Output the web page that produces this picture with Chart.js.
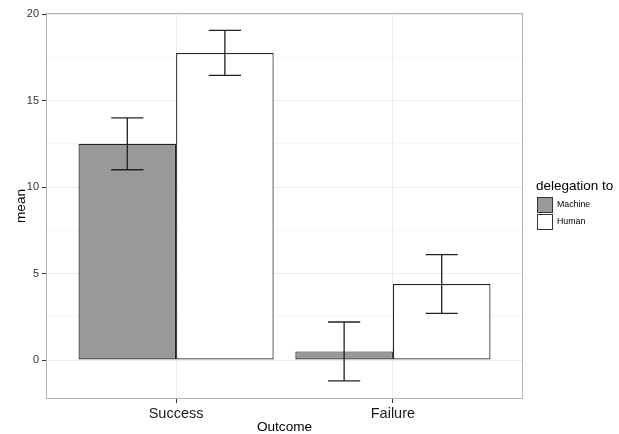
<!DOCTYPE html>
<html>
<head>
<meta charset="utf-8">
<script src="https://cdn.jsdelivr.net/npm/chart.js@4"></script>
<style>
  html, body { margin: 0; padding: 0; background: #fff; }
  #wrap { width: 619px; height: 434px; position: relative; }
</style>
</head>
<body>
<div id="wrap"><canvas id="c" width="619" height="434"></canvas></div>
<script>
// ---- data ----
const categories = ['Success', 'Failure'];
const seriesNames = ['Machine', 'Human'];
const machineMean = [12.5, 0.5];
const machineLow  = [11.0, -1.2];
const machineHigh = [14.0, 2.2];
const humanMean   = [17.75, 4.4];
const humanLow    = [16.45, 2.7];
const humanHigh   = [19.05, 6.1];
const yTicks = [0, 5, 10, 15, 20];
const yMinorTicks = [2.5, 7.5, 12.5, 17.5];
const legendTitle = 'delegation to';

const FONT = '"Liberation Sans", Arial, Helvetica, sans-serif';

function toPoints(vals) { return vals.map((v, i) => ({ x: i + 1, y: v })); }

const errorBars = [
  { low: machineLow, high: machineHigh },
  { low: humanLow, high: humanHigh }
];

const errorBarPlugin = {
  id: 'errorBars',
  afterDatasetsDraw(chart) {
    const ctx = chart.ctx;
    const y = chart.scales.y;
    ctx.save();
    ctx.strokeStyle = '#222';
    ctx.lineWidth = 1.3;
    chart.data.datasets.forEach((ds, di) => {
      const meta = chart.getDatasetMeta(di);
      meta.data.forEach((el, i) => {
        const x = el.x;
        const hw = el.width * 0.165;
        const yl = y.getPixelForValue(errorBars[di].low[i]);
        const yh = y.getPixelForValue(errorBars[di].high[i]);
        ctx.beginPath();
        ctx.moveTo(x, yl); ctx.lineTo(x, yh);
        ctx.moveTo(x - hw, yl); ctx.lineTo(x + hw, yl);
        ctx.moveTo(x - hw, yh); ctx.lineTo(x + hw, yh);
        ctx.stroke();
      });
    });
    ctx.restore();
  }
};

const frameLegendPlugin = {
  id: 'frameLegend',
  beforeDatasetsDraw(chart) {
    const ctx = chart.ctx;
    const a = chart.chartArea;
    ctx.save();
    ctx.strokeStyle = '#b3b3b3';
    ctx.lineWidth = 1;
    ctx.strokeRect(Math.round(a.left) + 0.5, Math.round(a.top) + 0.5,
                   Math.round(a.right - a.left) - 1, Math.round(a.bottom - a.top) - 1);
    ctx.restore();
  },
  afterDraw(chart) {
    const ctx = chart.ctx;
    ctx.save();
    ctx.fillStyle = '#000';
    ctx.font = '13.5px ' + FONT;
    ctx.textBaseline = 'alphabetic';
    ctx.textAlign = 'left';
    ctx.fillText(legendTitle, 536, 190);
    chart.data.datasets.forEach((ds, i) => {
      const bx = 537, by = 197 + i * 17;
      ctx.fillStyle = ds.backgroundColor;
      ctx.fillRect(bx, by, 16, 16);
      ctx.strokeStyle = '#333';
      ctx.lineWidth = 1;
      ctx.strokeRect(bx + 0.5, by + 0.5, 15, 15);
      ctx.fillStyle = '#000';
      ctx.font = '8.8px ' + FONT;
      ctx.textBaseline = 'middle';
      ctx.fillText(ds.label, 557, by + 8);
    });
    ctx.restore();
  }
};

new Chart(document.getElementById('c'), {
  type: 'bar',
  data: {
    datasets: [
      { label: seriesNames[0], data: toPoints(machineMean), backgroundColor: '#999999',
        borderColor: '#222222', borderWidth: 1.2, borderSkipped: false },
      { label: seriesNames[1], data: toPoints(humanMean), backgroundColor: '#ffffff',
        borderColor: '#222222', borderWidth: 1.2, borderSkipped: false }
    ]
  },
  options: {
    responsive: false,
    animation: false,
    devicePixelRatio: 1,
    layout: { padding: { left: 0, right: 96, top: 13, bottom: 0 } },
    datasets: { bar: { categoryPercentage: 0.9, barPercentage: 1.0, grouped: true } },
    plugins: { legend: { display: false }, tooltip: { enabled: false } },
    scales: {
      x: {
        type: 'linear',
        min: 0.4, max: 2.6,
        offset: false,
        afterBuildTicks(scale) { scale.ticks = categories.map((c, i) => ({ value: i + 1 })); },
        afterFit(scale) { scale.height = 35; },
        ticks: {
          callback: (v) => categories[Math.round(v) - 1] || '',
          font: { family: FONT, size: 14.5 },
          color: '#1a1a1a',
          padding: 2,
          maxRotation: 0,
          autoSkip: false
        },
        grid: { offset: false, color: '#ececec', tickColor: '#333', tickLength: 4, lineWidth: 1 },
        border: { display: false },
        title: {
          display: true, text: 'Outcome', color: '#000',
          font: { family: FONT, size: 13.6, lineHeight: 1 },
          padding: { top: 0, bottom: 0 }
        }
      },
      y: {
        min: -2.25, max: 20.06,
        afterBuildTicks(scale) {
          scale.ticks = yTicks.concat(yMinorTicks).sort((a, b) => a - b).map(v => ({ value: v }));
        },
        afterFit(scale) { scale.width = 46; },
        ticks: {
          callback: (v) => yTicks.includes(v) ? String(v) : '',
          font: { family: FONT, size: 11 },
          color: '#333',
          padding: 3
        },
        grid: {
          color: (c) => (c.tick && yTicks.includes(c.tick.value)) ? '#ececec' : '#f6f6f6',
          tickColor: (c) => (c.tick && yTicks.includes(c.tick.value)) ? '#333' : 'rgba(0,0,0,0)',
          tickLength: 4, lineWidth: 1
        },
        border: { display: false },
        title: {
          display: true, text: 'mean', color: '#000',
          font: { family: FONT, size: 13.6 },
          padding: { top: 13, bottom: 0 }
        }
      }
    }
  },
  plugins: [errorBarPlugin, frameLegendPlugin]
});
</script>
</body>
</html>
